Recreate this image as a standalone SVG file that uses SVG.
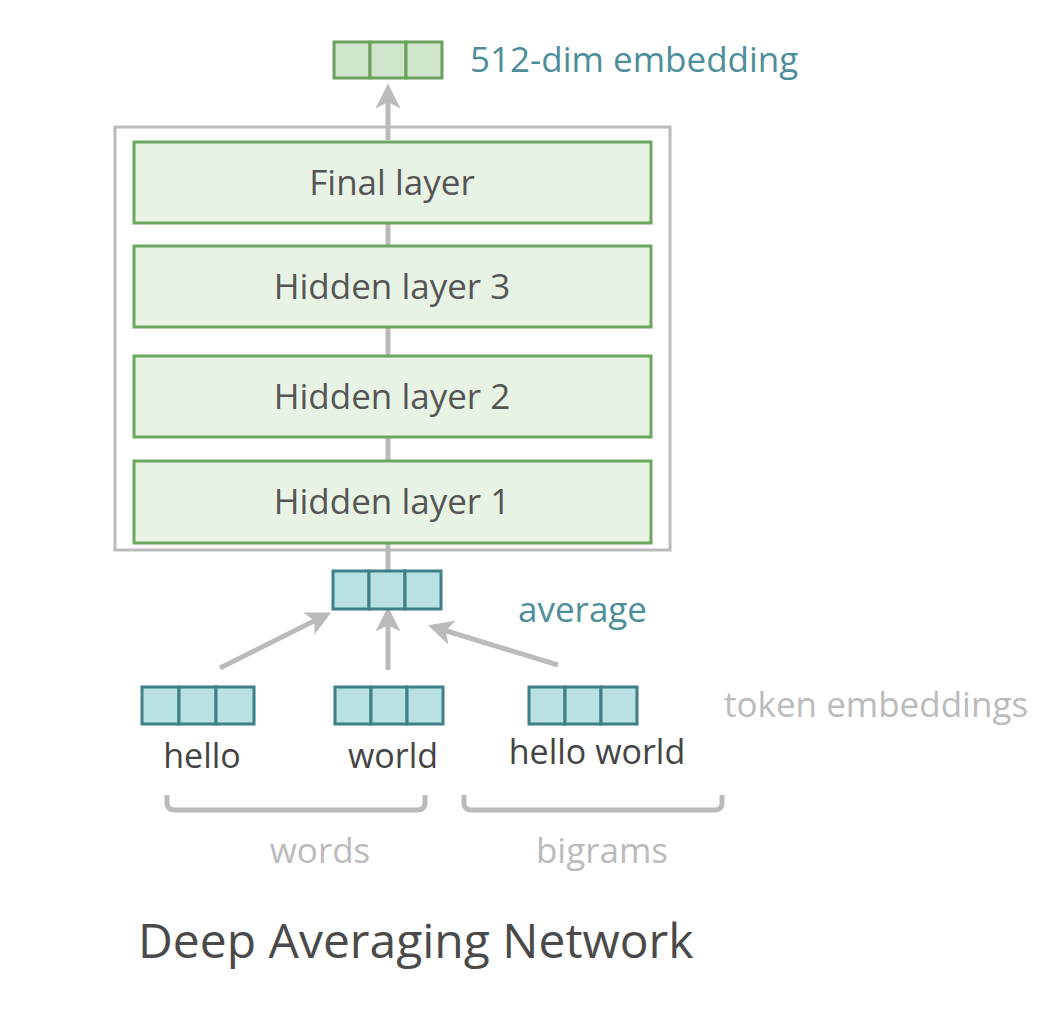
<svg xmlns="http://www.w3.org/2000/svg" width="1062" height="1012" viewBox="0 0 1062 1012">
<defs>
<style>
text{font-family:"Open Sans","Liberation Sans",sans-serif;}
.layer{fill:#e8f3e6;stroke:#6aa85e;stroke-width:3;}
.lt{font-size:35px;fill:#555;text-anchor:middle;}
.teal{fill:#b9e0e3;stroke:#3d8087;stroke-width:3;}
.green{fill:#d0e6cc;stroke:#6a9f5e;stroke-width:3;}
.conn{stroke:#bbb;stroke-width:5;fill:none;}
.tok{font-size:34px;fill:#444;text-anchor:middle;}
.grey{font-size:35px;fill:#bbb;}
.blue{font-size:35px;fill:#4e8e9b;}
</style>
<marker id="ah" viewBox="0 0 10 10" refX="5" refY="5" markerWidth="5" markerHeight="5" orient="auto" markerUnits="strokeWidth">
<path d="M0,0 L10,5 L0,10 L2.5,5 z" fill="#bbb"/>
</marker>
</defs>
<rect width="1062" height="1012" fill="#fff"/>
<g id="connectors">
<line class="conn" x1="388" y1="140" x2="388" y2="96" marker-end="url(#ah)"/>
<line class="conn" x1="388" y1="223" x2="388" y2="246"/>
<line class="conn" x1="388" y1="327" x2="388" y2="356"/>
<line class="conn" x1="388" y1="437" x2="388" y2="461"/>
<line class="conn" x1="388" y1="543" x2="388" y2="570"/>
<line class="conn" x1="220" y1="668" x2="320" y2="618" marker-end="url(#ah)"/>
<line class="conn" x1="388" y1="670" x2="388" y2="619" marker-end="url(#ah)"/>
<line class="conn" x1="558" y1="665" x2="440" y2="629" marker-end="url(#ah)"/>
</g>
<g id="outer-box"><rect x="115" y="127" width="555" height="423" fill="none" stroke="#bbb" stroke-width="3"/></g>
<g id="final-layer"><rect class="layer" x="134" y="142" width="517" height="81"/><text class="lt" x="392" y="195">Final layer</text></g>
<g id="hidden-3"><rect class="layer" x="134" y="246" width="517" height="81"/><text class="lt" x="392" y="299">Hidden layer 3</text></g>
<g id="hidden-2"><rect class="layer" x="134" y="356" width="517" height="81"/><text class="lt" x="392" y="409">Hidden layer 2</text></g>
<g id="hidden-1"><rect class="layer" x="134" y="461" width="517" height="82"/><text class="lt" x="392" y="514">Hidden layer 1</text></g>
<g id="output-embedding">
<rect class="green" x="334" y="42" width="36" height="36"/><rect class="green" x="370" y="42" width="36" height="36"/><rect class="green" x="406" y="42" width="36" height="36"/>
<text class="blue" x="470" y="72">512-dim embedding</text>
</g>
<g id="average">
<rect class="teal" x="333" y="571" width="36" height="38"/><rect class="teal" x="369" y="571" width="36" height="38"/><rect class="teal" x="405" y="571" width="36" height="38"/>
<text class="blue" x="518" y="622" font-size="37">average</text>
</g>
<g id="tok-hello">
<rect class="teal" x="142" y="687" width="37" height="37"/><rect class="teal" x="179" y="687" width="37" height="37"/><rect class="teal" x="216" y="687" width="38" height="37"/>
<text class="tok" x="202" y="768">hello</text>
</g>
<g id="tok-world">
<rect class="teal" x="335" y="687" width="36" height="37"/><rect class="teal" x="371" y="687" width="36" height="37"/><rect class="teal" x="407" y="687" width="36" height="37"/>
<text class="tok" x="393" y="768">world</text>
</g>
<g id="tok-hello-world">
<rect class="teal" x="529" y="687" width="36" height="37"/><rect class="teal" x="565" y="687" width="36" height="37"/><rect class="teal" x="601" y="687" width="36" height="37"/>
<text class="tok" x="597" y="764">hello world</text>
</g>
<text class="grey" x="724" y="717">token embeddings</text>
<g id="brace-words"><path class="conn" d="M167,795 V803 Q167,810 175,810 H417 Q425,810 425,803 V795" stroke-width="4"/><text class="grey" x="320" y="863" text-anchor="middle">words</text></g>
<g id="brace-bigrams"><path class="conn" d="M464,795 V803 Q464,810 472,810 H714 Q722,810 722,803 V795" stroke-width="4"/><text class="grey" x="602" y="863" text-anchor="middle">bigrams</text></g>
<text x="138" y="958" font-size="48" fill="#4a4a4a">Deep Averaging Network</text>
</svg>
